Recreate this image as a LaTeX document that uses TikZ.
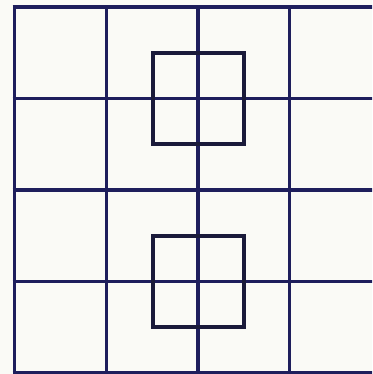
\documentclass[tikz,border=0pt]{standalone}
\definecolor{gridnavy}{HTML}{1E1E5C}
\definecolor{sqdark}{HTML}{1A1A3A}
\definecolor{paper}{HTML}{FAFAF6}
\begin{document}
\begin{tikzpicture}[x=1pt,y=-1pt,
  gridline/.style={draw=gridnavy,line width=3.6pt},
  smallsq/.style={draw=sqdark,line width=4pt,line join=miter}]
\fill[paper] (0,0) rectangle (372,374);
\useasboundingbox (0,0) rectangle (372,374);
\clip (0,0) rectangle (372,374);
% vertical grid lines
\foreach \x in {14.5,106.5,198,289.5,381} {
  \draw[gridline] (\x,5.2) -- (\x,374.3);
}
% horizontal grid lines
\foreach \y in {7,98.5,190,281.5,372.5} {
  \draw[gridline] (12.7,\y) -- (382.8,\y);
}
% small squares
\draw[smallsq] (152.7,52.7) rectangle (244,144.3);
\draw[smallsq] (152.7,236) rectangle (244,326.7);
\end{tikzpicture}
\end{document}
